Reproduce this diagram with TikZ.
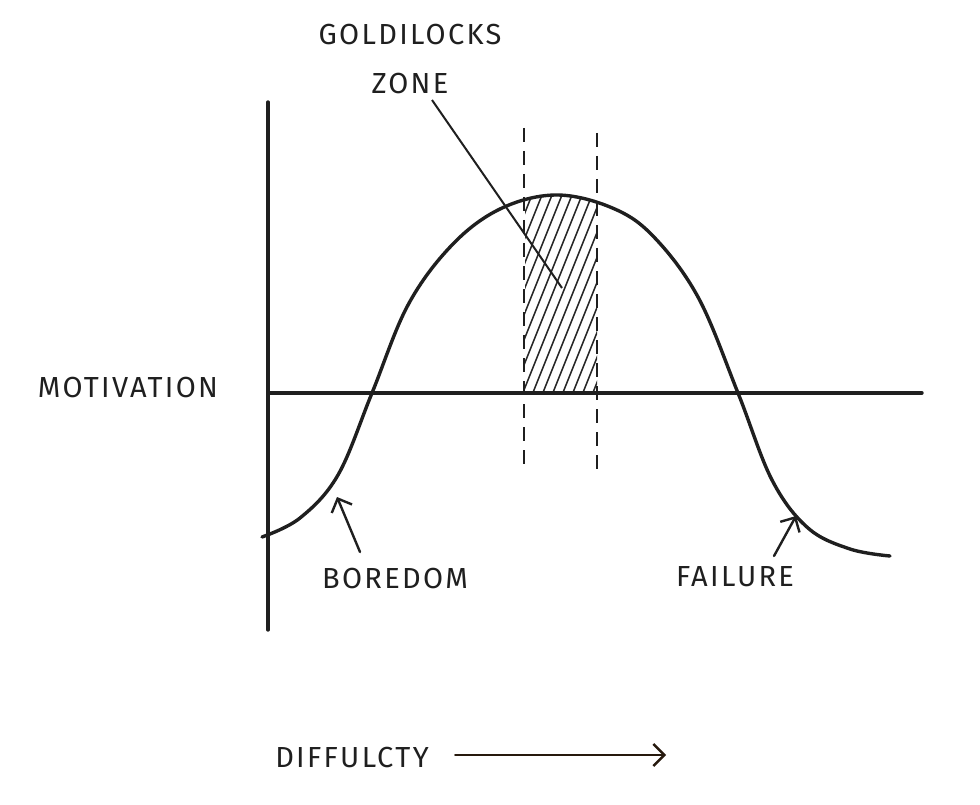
\documentclass[tikz,border=0pt]{standalone}
\usepackage{fontspec}
\setmainfont{Fira Sans}
\usetikzlibrary{arrows.meta}

\newcommand\humppath{plot[smooth, tension=0.6] coordinates {(262,537) (300,518) (338,475) (372,393) (408,305) (452,245) (500,209) (555,195) (610,207) (652,235) (698,297) (738,393) (772,480) (808,528) (850,549) (890,556)}}

\begin{document}
\begin{tikzpicture}[x=1pt, y=-1pt,
    ink/.style={draw=black!88, line width=3.4pt, line cap=round},
    label/.style={font=\fontsize{29}{31}\selectfont\addfontfeature{LetterSpace=8}, text=black!88, inner sep=0pt},
    pointer/.style={draw=black!88, line width=2.4pt, line cap=round, -{Straight Barb[length=11pt, width=22pt, line width=2.4pt]}},
    guide/.style={draw=black!88, line width=2.4pt, dash pattern=on 14pt off 9pt}]
    \useasboundingbox (0,0) rectangle (980,805);

    \coordinate (o) at (268,393);
    \coordinate (ytop) at (268,102);
    \coordinate (ybot) at (268,630);
    \coordinate (xend) at (922,393);

    \begin{scope}
        \clip (525,393) rectangle (597,150);
        \clip \humppath -- (890,400) -- (262,400) -- cycle;
        \foreach \i in {0,...,22}
            \draw[black!85, line width=1.5pt] (440+\i*10,400) -- ++(90,-225);
    \end{scope}

    \draw[ink] (ytop) -- (ybot);
    \draw[ink] (o) -- (xend);
    \draw[ink] \humppath;

    \draw[guide] (524,128) -- (524,470);
    \draw[guide] (597,133) -- (597,470);

    \node[label] (gold) at (410,35) {GOLDILOCKS};
    \node[label] (zone) at (410,84) {ZONE};
    \coordinate (zonetip) at (562,288);
    \draw[draw=black!88, line width=2pt] (432,100) -- (zonetip);

    \node[label] (motiv) at (128,388) {MOTIVATION};

    \node[label] (bored) at (395,579) {BOREDOM};
    \coordinate (boredtip) at (337,497);
    \draw[pointer] (360,552) -- (boredtip);

    \node[label] (fail) at (735,577) {FAILURE};
    \coordinate (failtip) at (796,516);
    \draw[pointer] (774,556) -- (failtip);

    \node[label] (diff) at (352,758) {DIFFULCTY};
    \coordinate (diffstart) at (455,755);
    \coordinate (diffend) at (666,755);
    \draw[pointer, draw=black!80!brown, line width=2pt] (diffstart) -- (diffend);
\end{tikzpicture}
\end{document}
